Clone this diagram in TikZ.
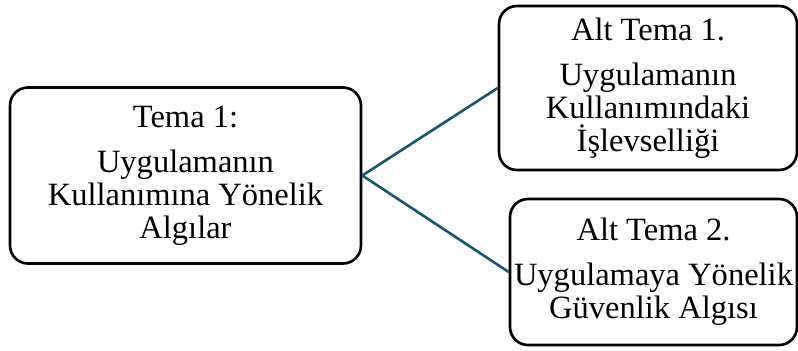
\documentclass[tikz,border=0pt]{standalone}
\usepackage{fontspec}
\setmainfont{Liberation Serif}
\definecolor{hatrengi}{RGB}{28,84,112}

\begin{document}
\begin{tikzpicture}[
    kutu/.style={draw, line width=1.5pt, rounded corners=0.36cm, align=center, inner sep=0pt,
      font=\fontsize{18.5}{18.8}\selectfont},
    hat/.style={draw=hatrengi, line width=1.5pt}
  ]
    \useasboundingbox (0, 0) rectangle (15.96, 7);

    \node [kutu, minimum width=7.02cm, minimum height=3.52cm] (tema) at (3.71, 3.49)
      {Tema 1:\\[6.8pt] Uygulamanın\\ Kullanımına Yönelik\\ Algılar};
    \node [kutu, minimum width=5.96cm, minimum height=3.28cm] (alt1) at (12.96, 5.24)
      {Alt Tema 1.\\[6.8pt] Uygulamanın\\ Kullanımındaki\\ İşlevselliği};
    \node [kutu, minimum width=5.74cm, minimum height=2.92cm] (alt2) at (13.07, 1.56)
      {Alt Tema 2.\\[6.8pt] Uygulamaya Yönelik\\ Güvenlik Algısı};

    \draw [hat] (tema.east) -- (alt1.west);
    \draw [hat] (tema.east) -- (alt2.west);
  \end{tikzpicture}
\end{document}
